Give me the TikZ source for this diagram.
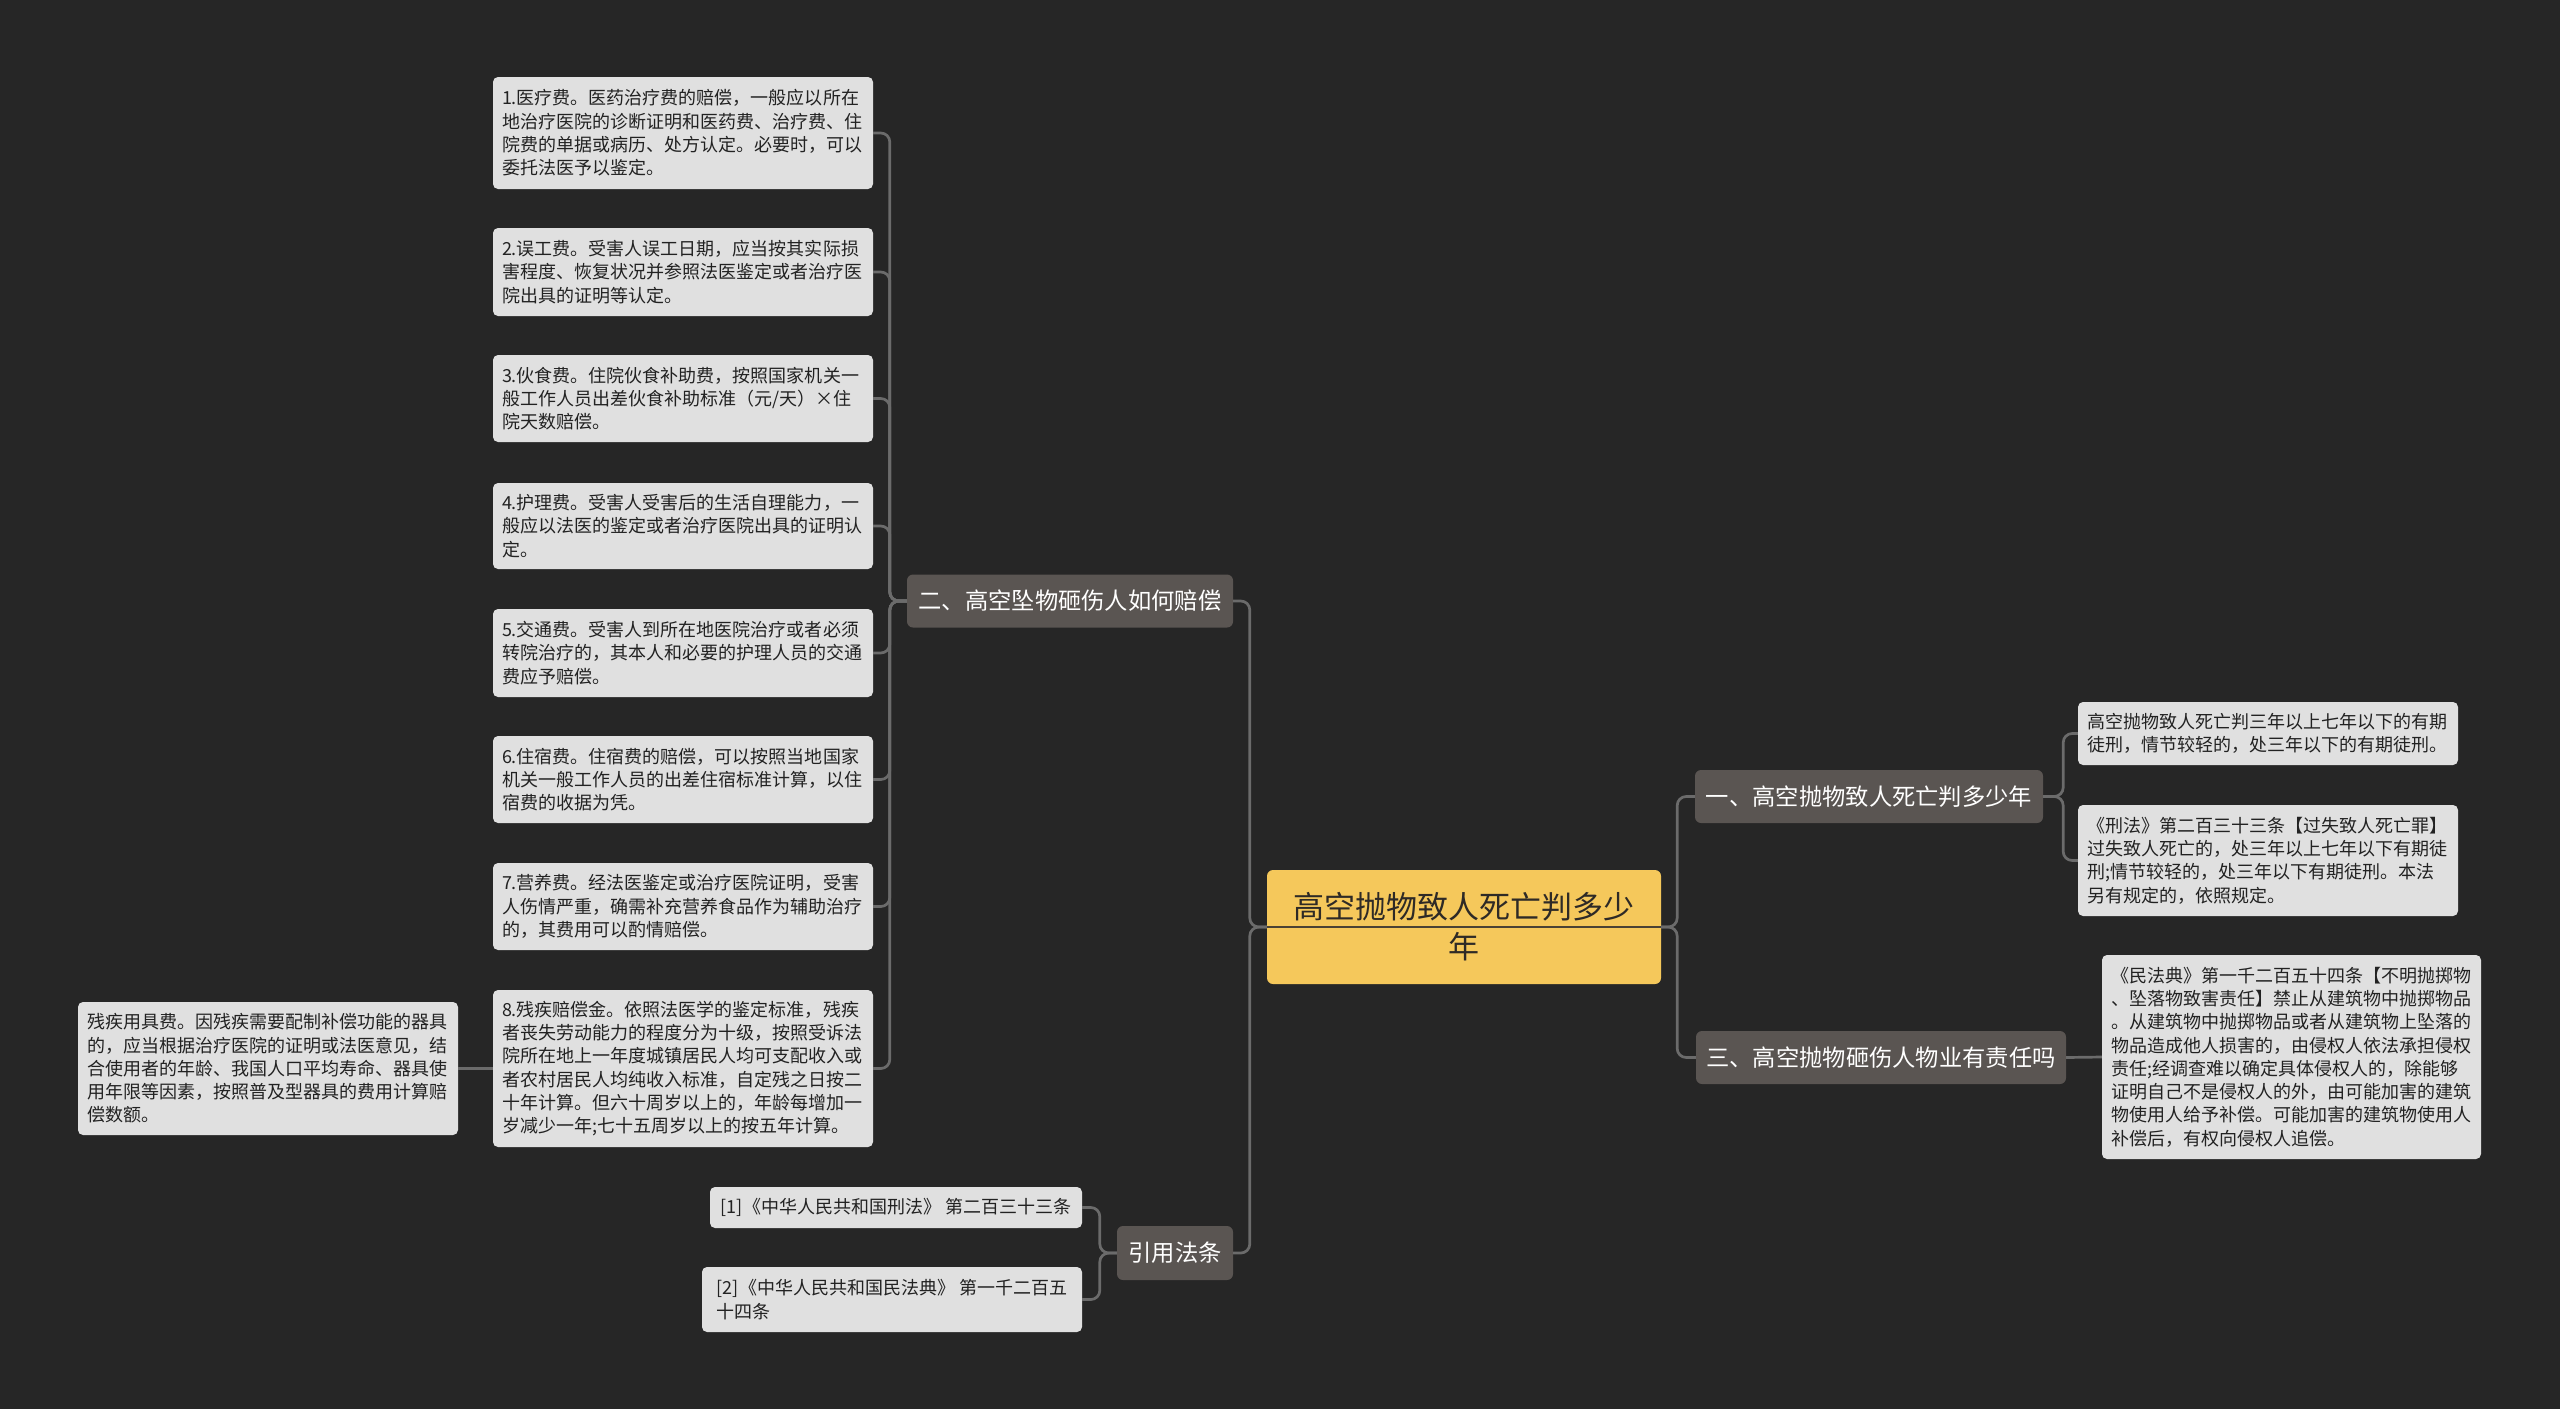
\documentclass[tikz,border=0pt]{standalone}
\usepackage{fontspec}
\setmainfont{Noto Sans CJK SC}
\definecolor{bg}{HTML}{262626}
\definecolor{leaffill}{HTML}{E0E0E0}
\definecolor{leaftext}{HTML}{222222}
\definecolor{branchfill}{HTML}{5A5552}
\definecolor{rootfill}{HTML}{F5C85B}
\definecolor{roottext}{HTML}{2E2A26}
\definecolor{linec}{HTML}{6B6B6B}
\definecolor{rootline}{HTML}{4A4234}
\begin{document}
\begin{tikzpicture}[x=1pt,y=-1pt,
  leaf/.style={fill=leaffill, rounded corners=5pt, inner xsep=9pt, inner ysep=0pt,
    align=left, font=\fontsize{18}{23.3}\selectfont, text=leaftext, anchor=center,
    text width=362pt},
  refbox/.style={fill=leaffill, rounded corners=5pt, inner sep=0pt,
    align=left, font=\fontsize{18}{23.3}\selectfont, text=leaftext, anchor=center},
  branch/.style={fill=branchfill, rounded corners=6pt, inner sep=0pt, text=white,
    font=\fontsize{23.3}{28}\selectfont, anchor=center},
  root/.style={fill=rootfill, rounded corners=6pt, inner sep=0pt, text=roottext,
    align=center, font=\fontsize{31}{40}\selectfont, anchor=center},
  conn/.style={draw=linec, line width=2.7pt, rounded corners=9pt}]
\fill[bg] (0,0) rectangle (2560,1409);
\useasboundingbox (0,0) rectangle (2560,1409);

% root
\node[root, minimum width=394pt, minimum height=114pt] (root) at (1464,927)
  {高空抛物致人死亡判多少\\年};

% branches
\node[branch, minimum width=326pt, minimum height=53pt] (b2) at (1070,601) {二、高空坠物砸伤人如何赔偿};
\node[branch, minimum width=116pt, minimum height=54pt] (b4) at (1175,1253) {引用法条};
\node[branch, minimum width=348pt, minimum height=53pt] (b1) at (1869,796.5) {一、高空抛物致人死亡判多少年};
\node[branch, minimum width=370pt, minimum height=53pt] (b3) at (1881,1057.5) {三、高空抛物砸伤人物业有责任吗};

% left leaves
\node[leaf, minimum height=112pt] (l1) at (683,133)
 {1.医疗费。医药治疗费的赔偿，一般应以所在\\地治疗医院的诊断证明和医药费、治疗费、住\\院费的单据或病历、处方认定。必要时，可以\\委托法医予以鉴定。};
\node[leaf, minimum height=88pt] (l2) at (683,272)
 {2.误工费。受害人误工日期，应当按其实际损\\害程度、恢复状况并参照法医鉴定或者治疗医\\院出具的证明等认定。};
\node[leaf, minimum height=87pt] (l3) at (683,398.5)
 {3.伙食费。住院伙食补助费，按照国家机关一\\般工作人员出差伙食补助标准（元/天）×住\\院天数赔偿。};
\node[leaf, minimum height=86pt] (l4) at (683,526)
 {4.护理费。受害人受害后的生活自理能力，一\\般应以法医的鉴定或者治疗医院出具的证明认\\定。};
\node[leaf, minimum height=88pt] (l5) at (683,653)
 {5.交通费。受害人到所在地医院治疗或者必须\\转院治疗的，其本人和必要的护理人员的交通\\费应予赔偿。};
\node[leaf, minimum height=87pt] (l6) at (683,779.5)
 {6.住宿费。住宿费的赔偿，可以按照当地国家\\机关一般工作人员的出差住宿标准计算，以住\\宿费的收据为凭。};
\node[leaf, minimum height=87pt] (l7) at (683,906.5)
 {7.营养费。经法医鉴定或治疗医院证明，受害\\人伤情严重，确需补充营养食品作为辅助治疗\\的，其费用可以酌情赔偿。};
\node[leaf, minimum height=157pt] (l8) at (683,1068.5)
 {8.残疾赔偿金。依照法医学的鉴定标准，残疾\\者丧失劳动能力的程度分为十级，按照受诉法\\院所在地上一年度城镇居民人均可支配收入或\\者农村居民人均纯收入标准，自定残之日按二\\十年计算。但六十周岁以上的，年龄每增加一\\岁减少一年;七十五周岁以上的按五年计算。};
\node[leaf, minimum height=133pt] (res) at (268,1068.5)
 {残疾用具费。因残疾需要配制补偿功能的器具\\的，应当根据治疗医院的证明或法医意见，结\\合使用者的年龄、我国人口平均寿命、器具使\\用年限等因素，按照普及型器具的费用计算赔\\偿数额。};

% references
\node[refbox, minimum width=372pt, minimum height=41pt] (r1) at (896,1207.5)
 {\mbox{[1]《中华人民共和国刑法》 第二百三十三条}};
\node[refbox, minimum width=380pt, minimum height=65pt] (r2) at (892,1299.5)
 {\mbox{[2]《中华人民共和国民法典》 第一千二百五}\\十四条};

% right leaves
\node[leaf, minimum height=63pt] (a1) at (2268,733.5)
 {高空抛物致人死亡判三年以上七年以下的有期\\徒刑，情节较轻的，处三年以下的有期徒刑。};
\node[leaf, minimum height=111pt] (a2) at (2268,860.5)
 {《刑法》第二百三十三条【过失致人死亡罪】\\过失致人死亡的，处三年以上七年以下有期徒\\刑;情节较轻的，处三年以下有期徒刑。本法\\另有规定的，依照规定。};
\node[leaf, minimum height=204pt, text width=361pt] (c1) at (2291.5,1057)
 {《民法典》第一千二百五十四条【不明抛掷物\\、坠落物致害责任】禁止从建筑物中抛掷物品\\。从建筑物中抛掷物品或者从建筑物上坠落的\\物品造成他人损害的，由侵权人依法承担侵权\\责任;经调查难以确定具体侵权人的，除能够\\证明自己不是侵权人的外，由可能加害的建筑\\物使用人给予补偿。可能加害的建筑物使用人\\补偿后，有权向侵权人追偿。};

% connectors
\foreach \c in {l1,l2,l3,l4,l5,l6,l7,l8}
  \draw[conn] (b2.west) -- ++(-17,0) |- (\c.east);
\draw[conn] (l8.west) -- (res.east);
\draw[conn] (root.west) -- ++(-17,0) |- (b2.east);
\draw[conn] (root.west) -- ++(-17,0) |- (b4.east);
\draw[conn] (b4.west) -- ++(-17,0) |- (r1.east);
\draw[conn] (b4.west) -- ++(-17,0) |- (r2.east);
\draw[conn] (root.east) -- ++(16,0) |- (b1.west);
\draw[conn] (root.east) -- ++(16,0) |- (b3.west);
\draw[conn] (b1.east) -- ++(20,0) |- (a1.west);
\draw[conn] (b1.east) -- ++(20,0) |- (a2.west);
\draw[conn] (b3.east) -- (c1.west);
\draw[line width=2.5pt, draw=rootline] (root.west) -- (root.east);
\end{tikzpicture}
\end{document}
